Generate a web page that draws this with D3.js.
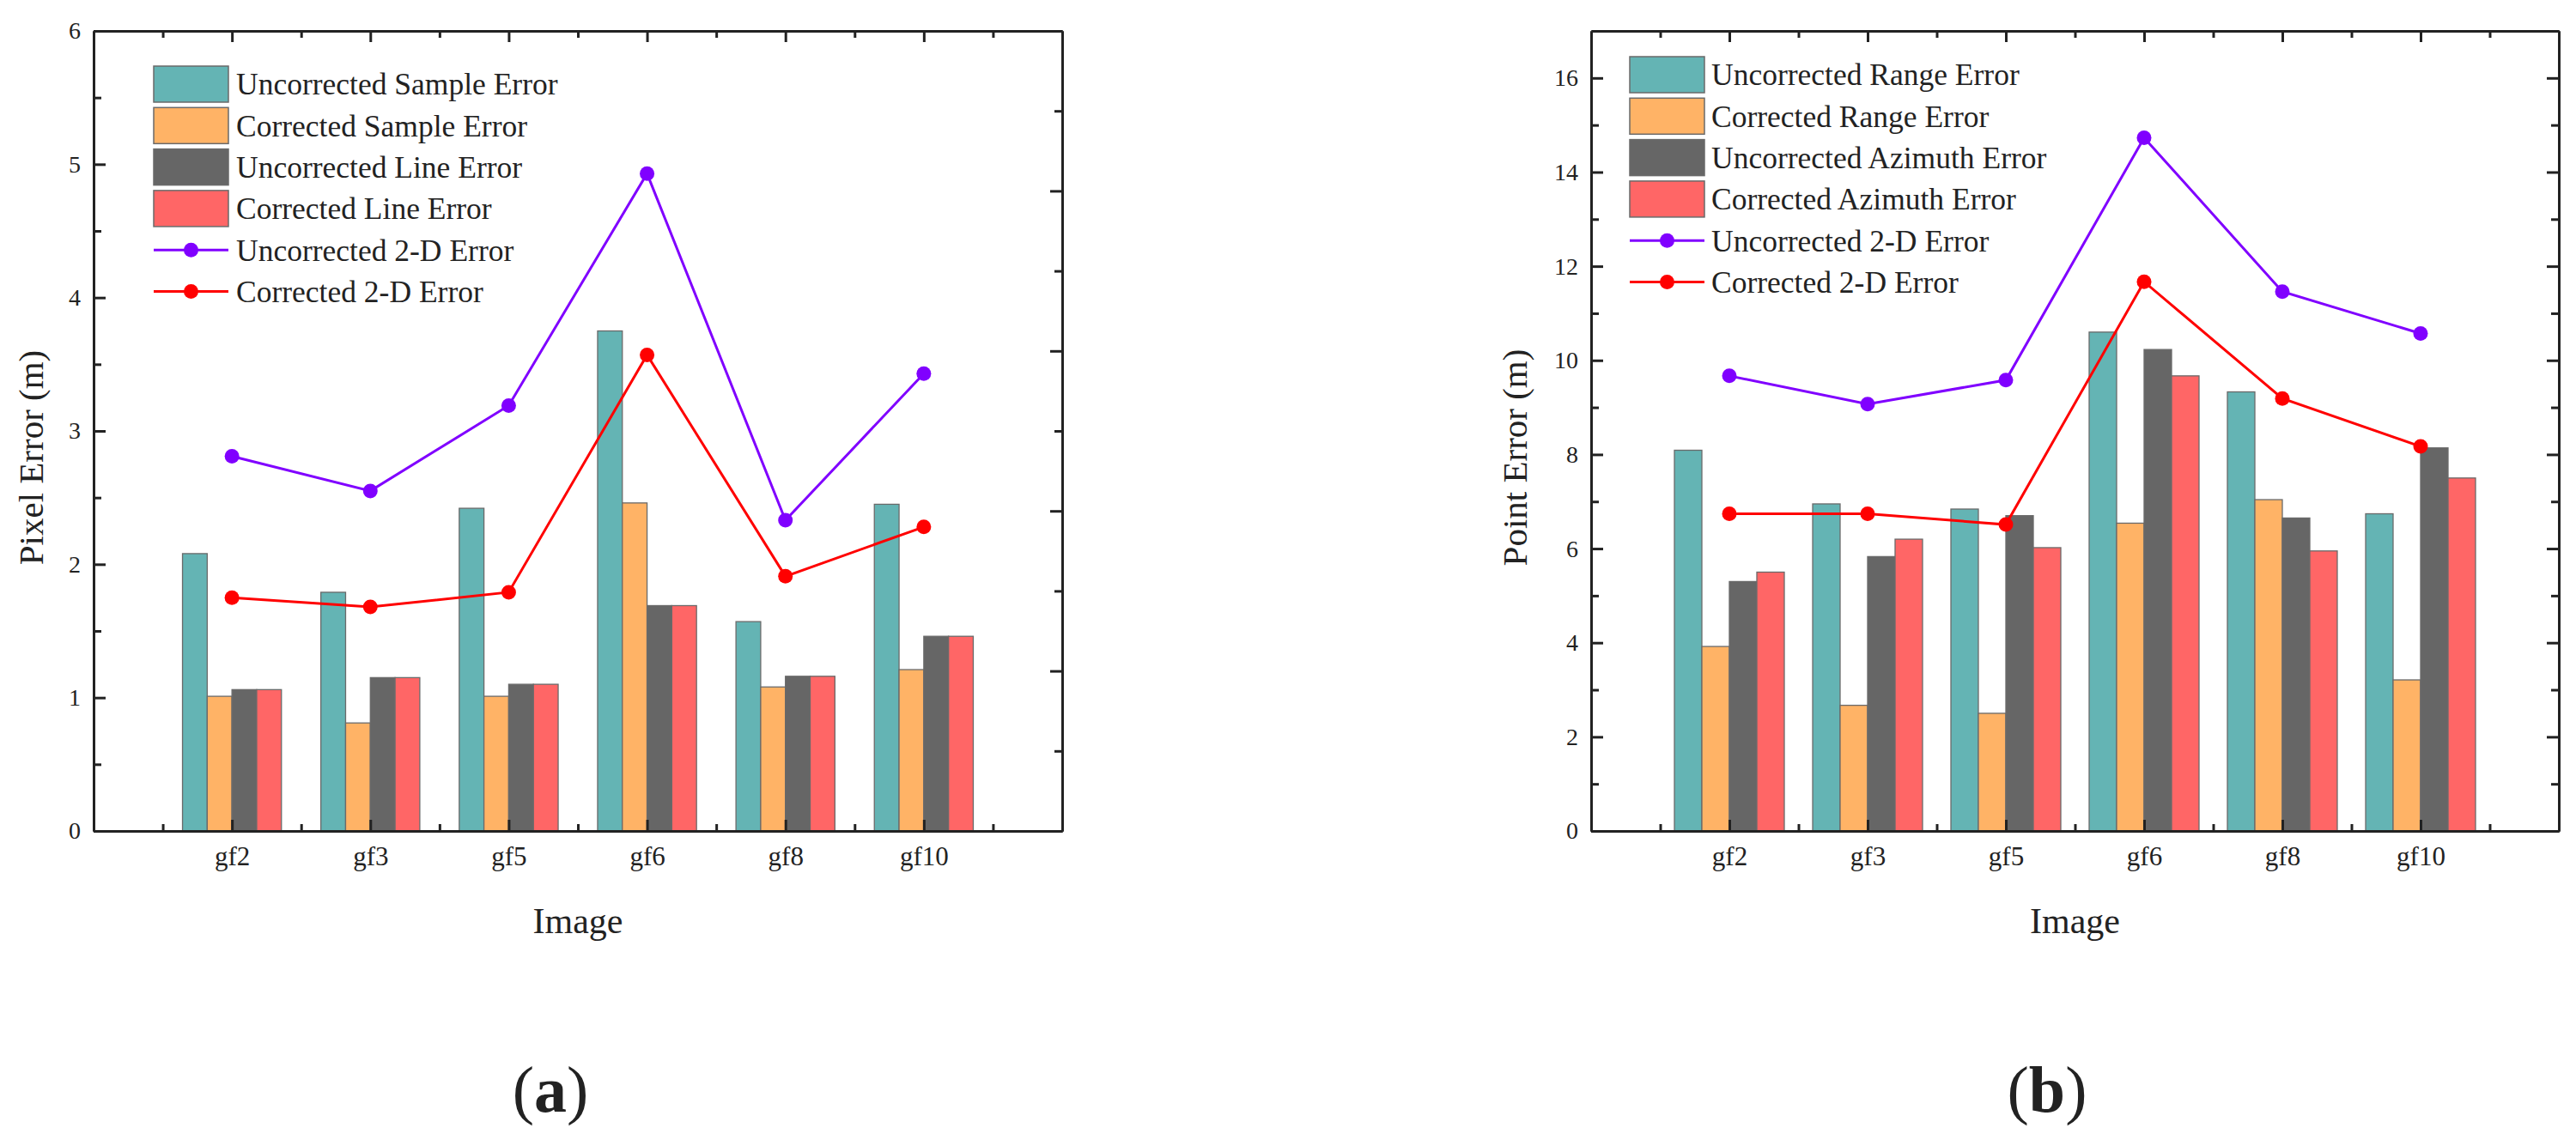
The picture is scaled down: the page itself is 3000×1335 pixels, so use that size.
<!DOCTYPE html>
<html>
<head>
<meta charset="utf-8">
<script src="https://cdn.jsdelivr.net/npm/d3@7"></script>
<style>
  html, body { margin: 0; padding: 0; background: #fff; }
  svg { display: block; }
  text { font-family: "Liberation Serif", "DejaVu Serif", serif; fill: #222; }
  .axis path, .axis line { stroke: #222; }
</style>
</head>
<body>
<svg id="chart" width="3000" height="1335"></svg>
<script>
/* ── Data ───────────────────────────────────────────────────────────────────── */
const IMAGES = ["gf2", "gf3", "gf5", "gf6", "gf8", "gf10"];

// (a) pixel error
const A_SERIES = ["Uncorrected Sample Error", "Corrected Sample Error",
                  "Uncorrected Line Error", "Corrected Line Error"];
const A_UNCORR_SAMPLE = [2.08, 1.79, 2.42, 3.75, 1.57, 2.45];
const A_CORR_SAMPLE   = [1.01, 0.81, 1.01, 2.46, 1.08, 1.21];
const A_UNCORR_LINE   = [1.06, 1.15, 1.10, 1.69, 1.16, 1.46];
const A_CORR_LINE     = [1.06, 1.15, 1.10, 1.69, 1.16, 1.46];
const A_UNCORR_2D     = [2.81, 2.55, 3.19, 4.93, 2.33, 3.43];
const A_CORR_2D       = [1.75, 1.68, 1.79, 3.57, 1.91, 2.28];
const A_Y_MAJOR = [0, 1, 2, 3, 4, 5, 6];
const A_Y_MINOR = [0.5, 1.5, 2.5, 3.5, 4.5, 5.5];
const A_RIGHT_MAJOR = [1.2, 2.4, 3.6, 4.8];
const A_RIGHT_MINOR = [0.6, 1.8, 3.0, 4.2, 5.4];

// (b) point error
const B_SERIES = ["Uncorrected Range Error", "Corrected Range Error",
                  "Uncorrected Azimuth Error", "Corrected Azimuth Error"];
const B_UNCORR_RANGE  = [8.09, 6.95, 6.84, 10.60, 9.33, 6.74];
const B_CORR_RANGE    = [3.92, 2.67, 2.50, 6.54, 7.04, 3.21];
const B_UNCORR_AZ     = [5.30, 5.83, 6.70, 10.23, 6.65, 8.14];
const B_CORR_AZ       = [5.50, 6.20, 6.02, 9.67, 5.95, 7.50];
const B_UNCORR_2D     = [9.67, 9.07, 9.58, 14.73, 11.46, 10.57];
const B_CORR_2D       = [6.74, 6.74, 6.51, 11.67, 9.19, 8.17];
const B_Y_MAJOR = [0, 2, 4, 6, 8, 10, 12, 14, 16];
const B_Y_MINOR = [1, 3, 5, 7, 9, 11, 13, 15];

const LINE_LABELS = ["Uncorrected 2-D Error", "Corrected 2-D Error"];
const X_MAJOR = [1, 2, 3, 4, 5, 6];
const X_MINOR = [0.5, 1.5, 2.5, 3.5, 4.5, 5.5, 6.5];

/* ── Palette ────────────────────────────────────────────────────────────────── */
const BAR_COLORS  = ["#64b4b4", "#ffb366", "#666666", "#ff6666"];
const LINE_COLORS = ["#8000ff", "#ff0000"];

const svg = d3.select("#chart");
svg.append("rect").attr("width", 3000).attr("height", 1335).attr("fill", "#fff");

/* ── Panel ──────────────────────────────────────────────────────────────────── */
function drawPanel(p) {
  const g = svg.append("g");
  const x = d3.scaleLinear().domain([0, 7]).range([p.left, p.right]);
  const y = d3.scaleLinear().domain([0, p.yMax]).range([p.bottom, p.top]);

  const unit = x(1) - x(0);
  const groupW = unit * p.groupFrac;
  const inner = d3.scaleBand().domain(p.series).range([-groupW / 2, groupW / 2]);

  // Bars
  p.bars.forEach((vals, s) => {
    g.append("g").selectAll("rect")
      .data(vals)
      .join("rect")
      .attr("x", (d, i) => x(i + 1) + inner(p.series[s]))
      .attr("width", inner.bandwidth())
      .attr("y", d => y(d))
      .attr("height", d => y(0) - y(d))
      .attr("fill", BAR_COLORS[s])
      .attr("stroke", "#6a6a6a")
      .attr("stroke-width", 1.3);
  });

  // Axes: major / minor ticks inward on all four sides
  const frame = (axis, tr, vals, size, fmt) => {
    const a = axis.tickValues(vals).tickSizeInner(size).tickSizeOuter(0).tickFormat(fmt || "");
    const ag = g.append("g").attr("class", "axis").attr("transform", tr).call(a);
    ag.selectAll("path, line").attr("stroke-width", 3);
    return ag;
  };
  const fmtY = d => d3.format("d")(d);
  const yl = frame(d3.axisLeft(y).tickPadding(15), `translate(${p.left},0)`, p.yMajor, -14, fmtY);
  yl.selectAll("text").attr("font-size", 28).attr("font-family", "Liberation Serif");
  frame(d3.axisLeft(y), `translate(${p.left},0)`, p.yMinor, -9);
  frame(d3.axisRight(y), `translate(${p.right},0)`, p.rightMajor, -14);
  frame(d3.axisRight(y), `translate(${p.right},0)`, p.rightMinor, -9);

  const xb = frame(d3.axisBottom(x).tickPadding(18), `translate(0,${p.bottom})`, X_MAJOR, -13,
                   d => IMAGES[d - 1]);
  xb.selectAll("text").attr("font-size", 31).attr("font-family", "Liberation Serif");
  frame(d3.axisBottom(x), `translate(0,${p.bottom})`, X_MINOR, -8);
  frame(d3.axisTop(x), `translate(0,${p.top})`, X_MAJOR, -13);
  frame(d3.axisTop(x), `translate(0,${p.top})`, X_MINOR, -8);

  // Lines with markers
  const line = d3.line().x((d, i) => x(i + 1)).y(d => y(d));
  p.lines.forEach((vals, s) => {
    g.append("path")
      .datum(vals)
      .attr("d", line)
      .attr("fill", "none")
      .attr("stroke", LINE_COLORS[s])
      .attr("stroke-width", 3);
    g.append("g").selectAll("circle")
      .data(vals)
      .join("circle")
      .attr("cx", (d, i) => x(i + 1))
      .attr("cy", d => y(d))
      .attr("r", 8.5)
      .attr("fill", LINE_COLORS[s]);
  });

  // Legend
  const lg = g.append("g").attr("transform", `translate(${p.legX},${p.legY})`);
  const rowH = 48.3, swW = 87, swH = 42;
  p.series.forEach((name, i) => {
    lg.append("rect")
      .attr("x", 0).attr("y", i * rowH)
      .attr("width", swW).attr("height", swH)
      .attr("fill", BAR_COLORS[i])
      .attr("stroke", "#6a6a6a").attr("stroke-width", 1.5);
    lg.append("text")
      .attr("x", p.legTextDx).attr("y", i * rowH + swH / 2)
      .attr("dy", "0.35em").attr("font-size", 35.5)
      .text(name);
  });
  LINE_LABELS.forEach((name, j) => {
    const cy = (4 + j) * rowH + swH / 2;
    lg.append("line")
      .attr("x1", 0).attr("x2", swW).attr("y1", cy).attr("y2", cy)
      .attr("stroke", LINE_COLORS[j]).attr("stroke-width", 3);
    lg.append("circle").attr("cx", swW / 2).attr("cy", cy).attr("r", 8.5)
      .attr("fill", LINE_COLORS[j]);
    lg.append("text")
      .attr("x", p.legTextDx).attr("y", cy)
      .attr("dy", "0.35em").attr("font-size", 35.5)
      .text(name);
  });

  // Axis titles
  g.append("text")
    .attr("transform", `translate(${p.yTitleX},533) rotate(-90)`)
    .attr("text-anchor", "middle").attr("font-size", 41)
    .text(p.yTitle);
  g.append("text")
    .attr("x", (p.left + p.right) / 2).attr("y", 1087)
    .attr("text-anchor", "middle").attr("font-size", 42)
    .text("Image");

  // Sub-figure label
  const lab = g.append("text")
    .attr("x", p.labelX).attr("y", 1295)
    .attr("text-anchor", "middle").attr("font-size", 76);
  lab.append("tspan").text("(");
  lab.append("tspan").attr("font-weight", "bold").text(p.label);
  lab.append("tspan").text(")");
}

/* ── Start ──────────────────────────────────────────────────────────────────── */
drawPanel({
  left: 109, right: 1237, top: 36, bottom: 968, yMax: 6,
  groupFrac: 0.715,
  series: A_SERIES,
  bars: [A_UNCORR_SAMPLE, A_CORR_SAMPLE, A_UNCORR_LINE, A_CORR_LINE],
  lines: [A_UNCORR_2D, A_CORR_2D],
  yMajor: A_Y_MAJOR, yMinor: A_Y_MINOR,
  rightMajor: A_RIGHT_MAJOR, rightMinor: A_RIGHT_MINOR,
  legX: 179, legY: 77, legTextDx: 96,
  yTitle: "Pixel Error (m)", yTitleX: 50,
  label: "a", labelX: 641,
});

drawPanel({
  left: 1853, right: 2980, top: 36, bottom: 968, yMax: 17,
  groupFrac: 0.795,
  series: B_SERIES,
  bars: [B_UNCORR_RANGE, B_CORR_RANGE, B_UNCORR_AZ, B_CORR_AZ],
  lines: [B_UNCORR_2D, B_CORR_2D],
  yMajor: B_Y_MAJOR, yMinor: B_Y_MINOR,
  rightMajor: B_Y_MAJOR.slice(1), rightMinor: B_Y_MINOR,
  legX: 1898, legY: 66, legTextDx: 95,
  yTitle: "Point Error (m)", yTitleX: 1778,
  label: "b", labelX: 2384,
});
</script>
</body>
</html>
